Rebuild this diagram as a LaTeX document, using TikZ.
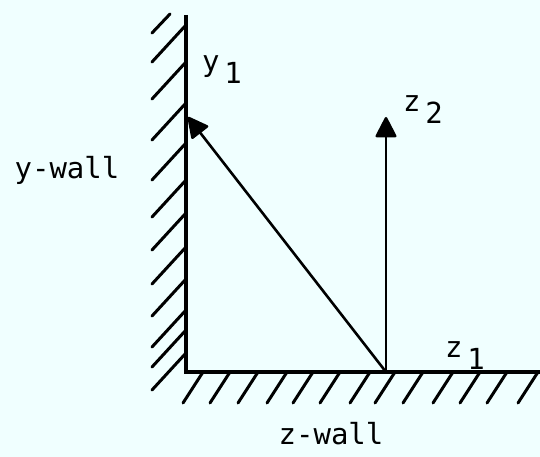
\documentclass[tikz,border=0pt]{standalone}
\usepackage{fontspec}
\usepackage{tikz}
\usetikzlibrary{arrows.meta, positioning}
\newfontfamily\plotfont{DejaVu Sans Mono}
\definecolor{wallPaper}{RGB}{240,255,255}
\definecolor{wallInk}{RGB}{0,0,0}

\begin{document}
\begin{tikzpicture}[x=1pt, y=-1pt,
      wall/.style={draw=wallInk, line width=3.2pt},
      hatch/.style={draw=wallInk, line width=3pt, line cap=round},
      vec/.style={draw=wallInk, line width=2.6pt, -{Triangle[length=22pt, width=22pt, round]}},
      lbl/.style={inner sep=0pt, font=\plotfont\fontsize{29}{32}\selectfont}
    ]
    \useasboundingbox (0,0) rectangle (540,457);
    \fill[wallPaper] (0,0) rectangle (540,457);

    \coordinate (corner) at (186,372);
    \coordinate (wtop) at (186,15);
    \coordinate (zend) at (540,372);
    \coordinate (base) at (386,372);
    \coordinate (ytip) at (188,117);
    \coordinate (ztip) at (386,117);

    % the two walls and their hatching
    \draw[wall] (wtop) -- (corner) -- (zend);
    \draw[hatch] (152,33) -- (170,14);
    \foreach \h in {25,62,103,143,180,213,247,279,310,330,353}
      \draw[hatch] (186,\h) -- ++(-34,37);
    \foreach \h in {203,230,258,287,313,340,370,395,423,453,480,507,538}
      \draw[hatch] (\h,372) -- ++(-20,31);

    \draw[vec] (base) -- (ytip);
    \draw[vec] (base) -- (ztip);

    \node[lbl] (ylbl) at (222,70) {y\,\raisebox{-12pt}{1}};
    \node[lbl] (zlbl2) at (423,110) {z\,\raisebox{-12pt}{2}};
    \node[lbl] (zlbl1) at (465,356) {z\,\raisebox{-12pt}{1}};
    \node[lbl] (ywall) at (67,170) {y-wall};
    \node[lbl] (zwall) at (331,434) {z-wall};
  \end{tikzpicture}
\end{document}
